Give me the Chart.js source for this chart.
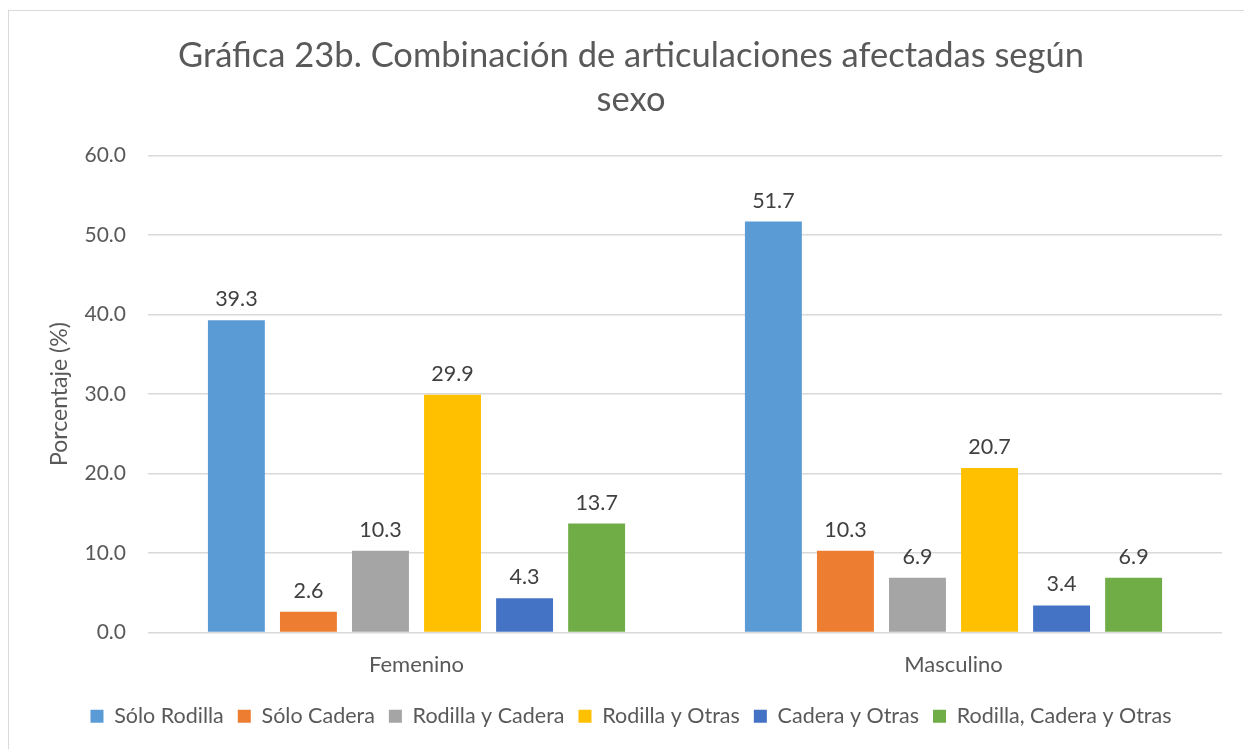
<!DOCTYPE html>
<html>
<head>
<meta charset="utf-8">
<script src="https://cdn.jsdelivr.net/npm/chart.js@4.4.1/dist/chart.umd.min.js"></script>
<style>
  html, body { margin: 0; padding: 0; background: #ffffff; }
  body { width: 1244px; height: 749px; overflow: hidden; position: relative; }
  #frame { position: absolute; left: 8px; top: 10px; width: 1300px; height: 800px; border: 1px solid #d9d9d9; box-sizing: border-box; }
  #wrap { position: absolute; left: 0; top: 0; width: 1244px; height: 749px; }
</style>
</head>
<body>
<div id="frame"></div>
<div id="wrap"><canvas id="c" width="1244" height="749"></canvas></div>
<script>
const titleLines = ["Gráfica 23b. Combinación de articulaciones afectadas según", "sexo"];
const categories = ["Femenino", "Masculino"];
const seriesNames = ["Sólo Rodilla", "Sólo Cadera", "Rodilla y Cadera", "Rodilla y Otras", "Cadera y Otras", "Rodilla, Cadera y Otras"];
const seriesColors = ["#5b9bd5", "#ed7d31", "#a5a5a5", "#ffc000", "#4472c4", "#70ad47"];
const soloRodilla = [39.3, 51.7];
const soloCadera = [2.6, 10.3];
const rodillaCadera = [10.3, 6.9];
const rodillaOtras = [29.9, 20.7];
const caderaOtras = [4.3, 3.4];
const rodillaCaderaOtras = [13.7, 6.9];
const seriesValues = [soloRodilla, soloCadera, rodillaCadera, rodillaOtras, caderaOtras, rodillaCaderaOtras];
const yTicks = [0, 10, 20, 30, 40, 50, 60];
const yTitle = "Porcentaje (%)";

const FONT = "Lato, 'Open Sans', sans-serif";
const TXT = "#595959";

const dataLabels = {
  id: 'dataLabels',
  afterDatasetsDraw(chart) {
    const ctx = chart.ctx;
    ctx.save();
    ctx.font = "21.5px " + FONT;
    ctx.fillStyle = "#404040";
    ctx.textAlign = "center";
    ctx.textBaseline = "middle";
    chart.data.datasets.forEach((ds, i) => {
      const meta = chart.getDatasetMeta(i);
      meta.data.forEach((el, j) => {
        ctx.fillText(ds.data[j].toFixed(1), el.x, el.y - 21);
      });
    });
    ctx.restore();
  }
};

new Chart(document.getElementById('c'), {
  type: 'bar',
  data: {
    labels: categories,
    datasets: seriesNames.map((n, i) => ({
      label: n,
      data: seriesValues[i],
      backgroundColor: seriesColors[i],
      borderWidth: 0,
      barPercentage: 0.79,
      categoryPercentage: 0.805
    }))
  },
  options: {
    responsive: false,
    animation: false,
    devicePixelRatio: 1,
    layout: { padding: { left: 40, right: 22, top: 34, bottom: 12 } },
    plugins: {
      title: {
        display: true,
        text: titleLines,
        color: TXT,
        font: { family: FONT, size: 34.5, weight: 'normal', lineHeight: 1.27 },
        padding: { top: 0, bottom: 34 }
      },
      legend: {
        position: 'bottom',
        labels: {
          color: TXT,
          font: { family: FONT, size: 21.5 },
          boxWidth: 13,
          boxHeight: 13,
          padding: 14
        }
      },
      tooltip: { enabled: false }
    },
    scales: {
      x: {
        afterFit(axis) { axis.height = 59; },
        grid: { display: false, drawTicks: false },
        border: { display: false },
        ticks: { color: TXT, font: { family: FONT, size: 22 }, padding: 19 }
      },
      y: {
        min: 0,
        max: 60,
        afterBuildTicks(axis) { axis.ticks = yTicks.map(v => ({ value: v })); },
        afterFit(axis) { axis.width = 108; },
        grid: { color: "#d9d9d9", lineWidth: 1.5, drawTicks: false },
        border: { display: false },
        ticks: {
          color: TXT,
          font: { family: FONT, size: 21 },
          padding: 22,
          callback: v => Number(v).toFixed(1)
        },
        title: {
          display: true,
          text: yTitle,
          color: TXT,
          font: { family: FONT, size: 23 },
          padding: { top: 6, bottom: 0 }
        }
      }
    }
  },
  plugins: [dataLabels]
});
</script>
</body>
</html>
